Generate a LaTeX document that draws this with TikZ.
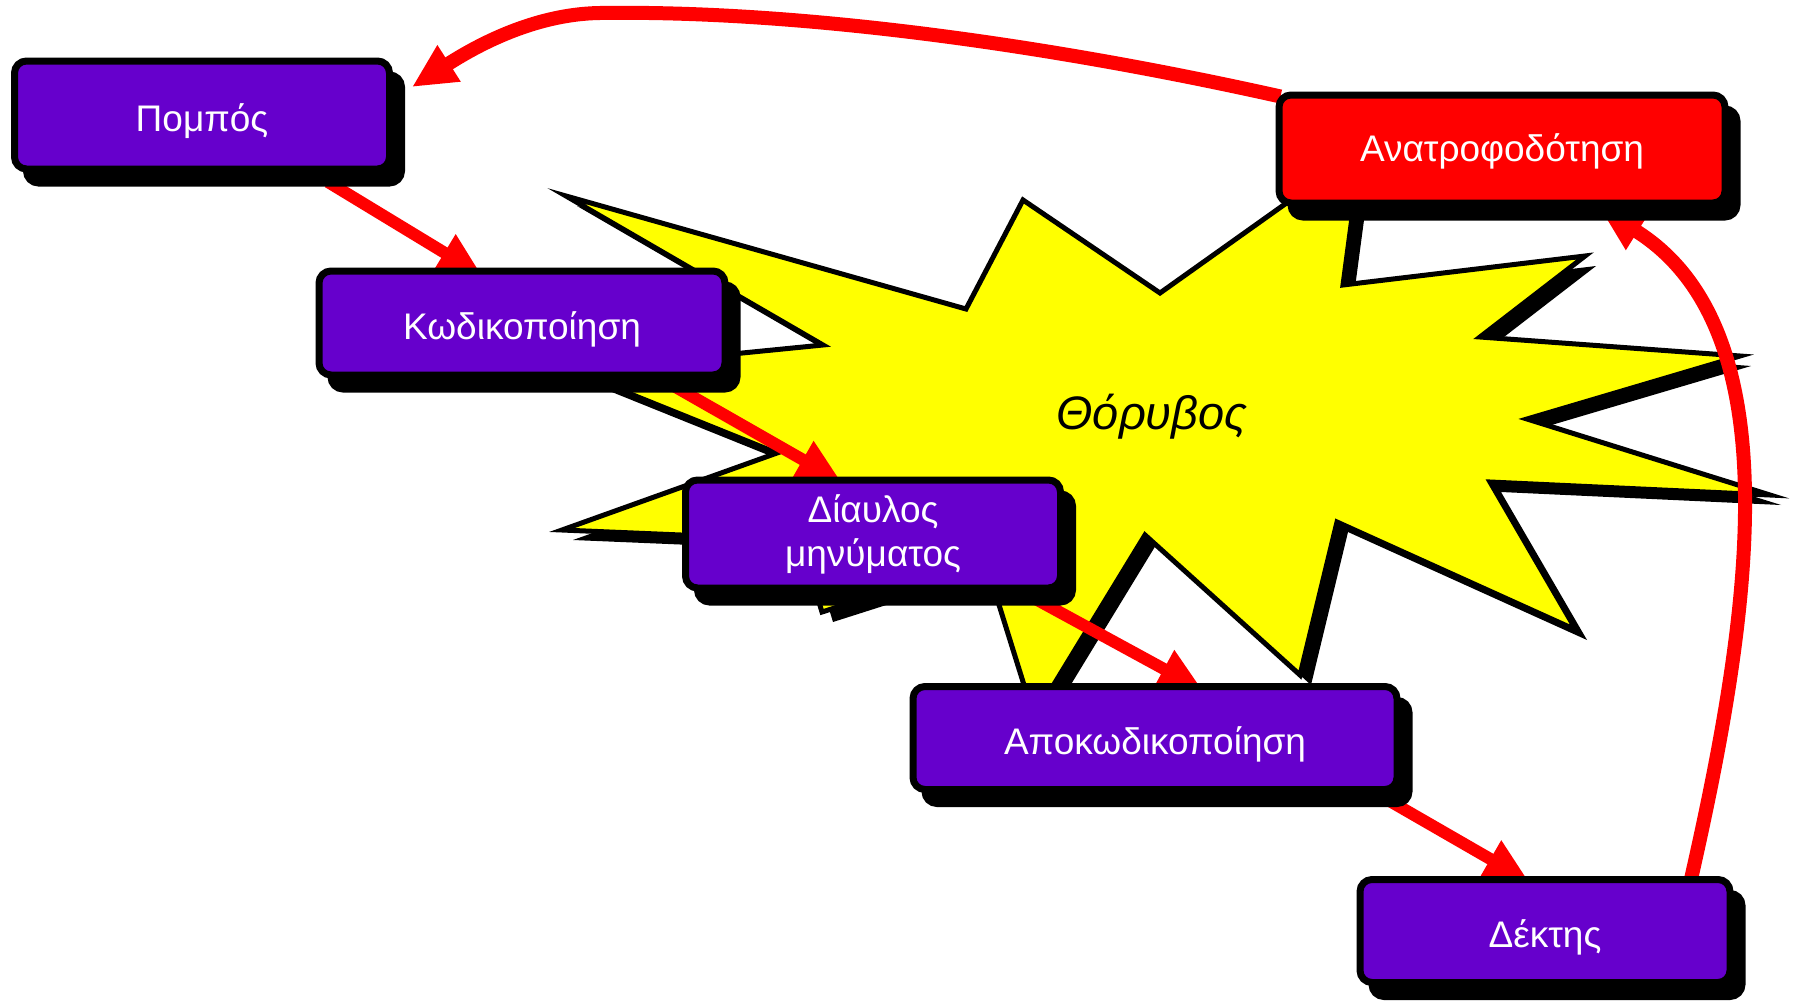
\documentclass[tikz,border=0pt]{standalone}
\usepackage{fontspec}
\setmainfont{Liberation Sans}
\usetikzlibrary{arrows.meta,shadows,backgrounds,calc}

\definecolor{stagepurple}{HTML}{6600CC}
\definecolor{replyred}{HTML}{FF0000}
\definecolor{noiseyellow}{HTML}{FFFF00}

% outline of the noise burst (pixel units, y downwards)
\newcommand\noiseburst{(566,196) -- (966,309) -- (1023,200) -- (1160,293) -- (1361,150)
  -- (1343,285) -- (1585,256) -- (1480,337) -- (1740,356) -- (1527,419) -- (1770,495)
  -- (1490,482) -- (1576,630) -- (1337,522) -- (1300,675) -- (1145,535) -- (1034,717)
  -- (985,560) -- (822,612) -- (800,540) -- (562,530) -- (777,453) -- (571,370)
  -- (823,345) -- cycle}

\tikzset{
  stagebox/.style={draw=black, line width=7pt, fill=stagepurple, rounded corners=12pt,
    minimum height=108pt, inner sep=4pt, text=white, align=center,
    font=\fontsize{37pt}{44pt}\selectfont,
    drop shadow={shadow xshift=12pt, shadow yshift=-14pt, opacity=1, fill=black, draw=black}},
  stage/.style={stagebox, text height=36pt, text depth=4pt},
  reply/.style={stage, fill=replyred, text height=30pt, text depth=5pt},
  flow/.style={draw=replyred, line width=12pt, -{Triangle[length=44pt,width=40pt]}},
  loopback/.style={flow, line width=14pt}
}

\begin{document}
\begin{tikzpicture}[x=1pt, y=-1pt]
  \useasboundingbox (0,0) rectangle (1798,1001);

  % Stages
  \node[stage, minimum width=375pt] (pompos) at (202,115) {Πομπός};
  \node[stage, minimum width=406pt, minimum height=104pt] (kodik) at (522,323) {Κωδικοποίηση};
  \node[stagebox, minimum width=375pt] (diavlos) at (873,534) {Δίαυλος\\μηνύματος};
  \node[stage, minimum width=484pt, minimum height=103pt] (apokod) at (1155,738) {Αποκωδικοποίηση};
  \node[stage, minimum width=370pt, minimum height=103pt] (dektis) at (1545,931) {Δέκτης};
  \node[reply, minimum width=446pt] (anatro) at (1502,149) {Ανατροφοδότηση};

  \begin{scope}[on background layer]
    % Noise
    \fill[black, shift={(11,10)}] \noiseburst;
    \filldraw[fill=noiseyellow, draw=black, line width=5pt, miter limit=25] \noiseburst;
    \node[font=\fontsize{47pt}{56pt}\selectfont\itshape] (noise) at (1152,417) {Θόρυβος};

    % Forward flow
    \draw[flow] ($(pompos.south east)+(-65,9.5)$) -- ($(kodik.north)+(-40,8)$);
    \draw[flow] ($(kodik.south east)+(-56.5,6.5)$) -- ($(diavlos.north)+(-32,5)$);
    \draw[flow] ($(diavlos.south east)+(-34,4.5)$) -- ($(apokod.north)+(47.5,7)$);
    \draw[flow] ($(apokod.south east)+(-23,1)$) -- ($(dektis.north)+(-16.5,5)$);

    % Feedback
    \draw[loopback] ($(dektis.north east)+(-43.5,7.5)$) .. controls (1750,620) and (1795,330) .. ($(anatro.south east)+(-128.5,2)$);
    \draw[loopback] ($(anatro.north west)+(5,5)$) .. controls (1050,45) and (800,10) .. (600,13)
      .. controls (530,14) and (470,50) .. ($(pompos.north east)+(19,29.5)$);
  \end{scope}
\end{tikzpicture}
\end{document}
